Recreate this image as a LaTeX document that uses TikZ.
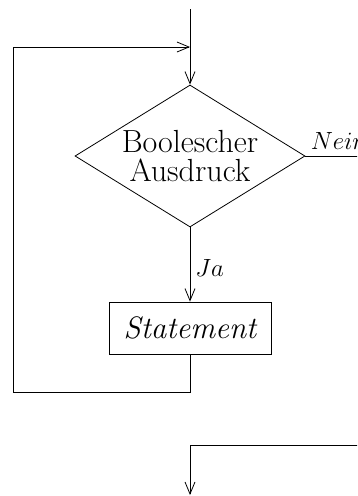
\documentclass[tikz,border=0pt]{standalone}
\usetikzlibrary{shapes.geometric,arrows.meta}
\begin{document}
\begin{tikzpicture}[x=1pt,y=-1pt,line width=0.8pt,
  flow/.style={-{Straight Barb[length=12pt,width=10pt]}},
  dec/.style={draw,diamond,aspect=1.62,minimum width=230pt,minimum height=142pt,inner sep=0pt,align=center,font=\fontsize{32}{29}\selectfont},
  stmt/.style={draw,rectangle,minimum width=162pt,minimum height=52pt,inner sep=0pt,font=\fontsize{31}{35}\selectfont\itshape},
  lab/.style={inner sep=0pt,font=\fontsize{26}{30}\selectfont}]
\useasboundingbox (0,0) rectangle (357,496);
\clip (0,0) rectangle (357,496);
\coordinate (top) at (190,9);
\coordinate (join) at (190,47);
\node[dec] (d) at (190,156) {Boolescher\\Ausdruck};
\node[stmt] (s) at (190,328) {Statement};
\coordinate (bl) at (190,392);
\coordinate (lb) at (13,392);
\coordinate (lt) at (13,47);
\coordinate (r1) at (390,156);
\coordinate (r2) at (390,445);
\coordinate (m) at (190,445);
\coordinate (end) at (190,495);
\draw (top) -- (join);
\draw[flow] (join) -- (d.north);
\draw[flow] (d.south) -- node[lab,anchor=west,xshift=5pt,pos=0.55] {$Ja$} (s.north);
\draw (s.south) -- (bl) -- (lb) -- (lt);
\draw[flow] (lt) -- (join);
\draw (d.east) -- node[lab,pos=0,anchor=south west,xshift=5pt,yshift=6pt] {$Nein$} (r1) -- (r2) -- (m);
\draw[flow] (m) -- (end);
\end{tikzpicture}
\end{document}
